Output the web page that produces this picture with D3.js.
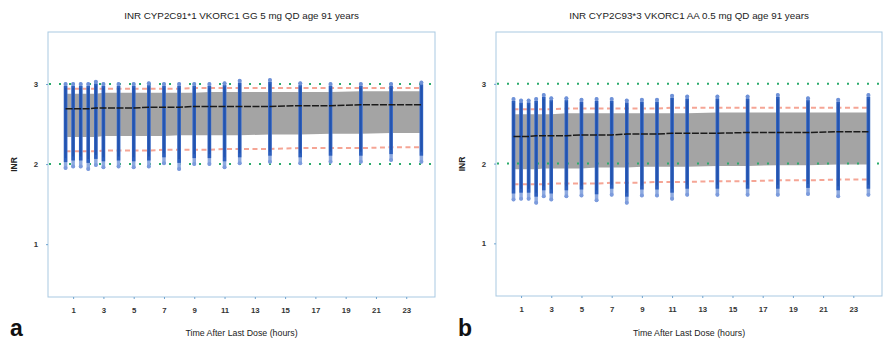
<!DOCTYPE html>
<html>
<head>
<meta charset="utf-8">
<script src="https://cdn.jsdelivr.net/npm/d3@7.9.0/dist/d3.min.js"></script>
<style>
  html, body { margin: 0; padding: 0; background: #fff; }
  svg { display: block; font-family: "Liberation Sans", Arial, sans-serif; }
</style>
</head>
<body>
<div id="chart"></div>
<script>
// =========================================
// DATA
// =========================================
const times = [0.5, 1, 1.5, 2, 2.5, 3, 4, 5, 6, 7, 8, 9, 10, 11, 12, 14, 16, 18, 20, 22, 24];
const xTicks = [1, 3, 5, 7, 9, 11, 13, 15, 17, 19, 21, 23];
const yTicks = [1, 2, 3];
const targetRange = [2, 3];

// panel a : CYP2C9*1/*1 VKORC1 GG 5 mg
const titleA = "INR CYP2C91*1 VKORC1 GG 5 mg QD age 91 years";
const simMaxA = [3.00, 3.00, 3.00, 3.00, 3.03, 3.00, 3.00, 3.00, 3.01, 3.00, 3.00, 3.00, 3.00, 3.01, 3.04, 3.05, 3.01, 3.00, 3.00, 3.00, 3.02];
const simMinA = [1.95, 1.97, 1.97, 1.94, 1.99, 1.96, 1.97, 1.96, 1.97, 2.01, 1.94, 2.00, 2.00, 1.96, 2.01, 2.03, 2.01, 2.03, 2.03, 2.05, 2.03];
const medianA = [2.69, 2.69, 2.69, 2.69, 2.70, 2.70, 2.70, 2.70, 2.71, 2.71, 2.71, 2.72, 2.72, 2.72, 2.72, 2.72, 2.73, 2.73, 2.74, 2.74, 2.74];
const bandHiA = [2.88, 2.88, 2.88, 2.88, 2.88, 2.89, 2.89, 2.89, 2.89, 2.89, 2.89, 2.89, 2.90, 2.90, 2.90, 2.90, 2.90, 2.90, 2.91, 2.91, 2.91];
const bandLoA = [2.34, 2.34, 2.34, 2.34, 2.34, 2.35, 2.35, 2.35, 2.35, 2.35, 2.36, 2.36, 2.36, 2.36, 2.36, 2.37, 2.37, 2.38, 2.38, 2.39, 2.39];
const p95A    = [2.94, 2.94, 2.94, 2.94, 2.94, 2.94, 2.94, 2.94, 2.94, 2.94, 2.94, 2.95, 2.95, 2.95, 2.95, 2.95, 2.95, 2.95, 2.95, 2.95, 2.95];
const p05A    = [2.16, 2.16, 2.16, 2.16, 2.16, 2.17, 2.17, 2.17, 2.17, 2.18, 2.18, 2.18, 2.18, 2.19, 2.19, 2.19, 2.20, 2.20, 2.20, 2.21, 2.21];

// panel b : CYP2C9*3/*3 VKORC1 AA 0.5 mg
const titleB = "INR CYP2C93*3 VKORC1 AA 0.5 mg QD age 91 years";
const simMaxB = [2.81, 2.79, 2.79, 2.81, 2.86, 2.82, 2.82, 2.80, 2.81, 2.81, 2.79, 2.80, 2.80, 2.85, 2.84, 2.84, 2.84, 2.86, 2.82, 2.80, 2.86];
const simMinB = [1.55, 1.56, 1.56, 1.51, 1.59, 1.55, 1.59, 1.60, 1.54, 1.61, 1.51, 1.60, 1.60, 1.56, 1.61, 1.61, 1.61, 1.61, 1.62, 1.59, 1.61];
const medianB = [2.34, 2.34, 2.34, 2.35, 2.35, 2.35, 2.35, 2.36, 2.36, 2.36, 2.37, 2.37, 2.37, 2.38, 2.38, 2.38, 2.39, 2.39, 2.39, 2.40, 2.40];
const bandHiB = [2.62, 2.62, 2.62, 2.62, 2.62, 2.62, 2.63, 2.63, 2.63, 2.63, 2.63, 2.63, 2.63, 2.63, 2.63, 2.64, 2.64, 2.64, 2.64, 2.64, 2.64];
const bandLoB = [1.93, 1.93, 1.93, 1.93, 1.94, 1.94, 1.94, 1.94, 1.95, 1.95, 1.95, 1.96, 1.96, 1.96, 1.96, 1.97, 1.97, 1.98, 1.98, 1.99, 1.99];
const p95B    = [2.68, 2.68, 2.68, 2.68, 2.68, 2.68, 2.69, 2.69, 2.69, 2.69, 2.69, 2.69, 2.69, 2.70, 2.70, 2.70, 2.70, 2.70, 2.70, 2.70, 2.70];
const p05B    = [1.74, 1.74, 1.74, 1.74, 1.74, 1.75, 1.75, 1.75, 1.75, 1.76, 1.76, 1.76, 1.77, 1.77, 1.77, 1.78, 1.78, 1.79, 1.79, 1.80, 1.80];

// =========================================
// LAYOUT
// =========================================
const W = 884, H = 342;
const svg = d3.select("#chart").append("svg")
    .attr("width", W)
    .attr("height", H);

const panels = [
    { letter: "a", title: titleA, left: 48, right: 435, top: 32, bottom: 297,
      max: simMaxA, min: simMinA, med: medianA, hi: bandHiA, lo: bandLoA, p95: p95A, p05: p05A },
    { letter: "b", title: titleB, left: 496, right: 882, top: 32, bottom: 296,
      max: simMaxB, min: simMinB, med: medianB, hi: bandHiB, lo: bandLoB, p95: p95B, p05: p05B }
];

const frameColor = "#a9c9e2";

// =========================================
// PANEL RENDERING
// =========================================
function drawPanel(p) {
    const x = d3.scaleLinear().domain([-0.66, 24.9]).range([p.left, p.right]);
    const y = d3.scaleLinear().domain([0.34, 3.65]).range([p.bottom, p.top]);

    const g = svg.append("g");
    const rows = times.map((t, i) => ({
        t, max: p.max[i], min: p.min[i], med: p.med[i],
        hi: p.hi[i], lo: p.lo[i], p95: p.p95[i], p05: p.p05[i]
    }));

    // frame
    g.append("rect")
        .attr("x", p.left).attr("y", p.top)
        .attr("width", p.right - p.left).attr("height", p.bottom - p.top)
        .attr("fill", "#fff")
        .attr("stroke", frameColor)
        .attr("stroke-width", 1);

    // grey band
    g.append("path")
        .datum(rows)
        .attr("fill", "#a4a4a4")
        .attr("d", d3.area().x(d => x(d.t)).y0(d => y(d.lo)).y1(d => y(d.hi)));

    // 5th / 95th percentile (salmon dashed)
    ["p95", "p05"].forEach(k => {
        g.append("path")
            .datum(rows)
            .attr("fill", "none")
            .attr("stroke", "#f5a595")
            .attr("stroke-width", 2)
            .attr("stroke-dasharray", "5,3.5")
            .attr("d", d3.line().x(d => x(d.t)).y(d => y(d[k])));
    });

    // therapeutic range (green dotted)
    g.selectAll(".target")
        .data(targetRange)
        .join("line")
        .attr("x1", p.left + 1).attr("x2", p.right - 1)
        .attr("y1", d => y(d)).attr("y2", d => y(d))
        .attr("stroke", "#2bab6c")
        .attr("stroke-width", 2)
        .attr("stroke-dasharray", "2,8");

    // simulated INR columns
    const cols = g.append("g");
    cols.selectAll(".halo")
        .data(rows)
        .join("line")
        .attr("x1", d => x(d.t)).attr("x2", d => x(d.t))
        .attr("y1", d => y(d.max)).attr("y2", d => y(d.min))
        .attr("stroke", "#8eaae0")
        .attr("stroke-width", 3.5)
        .attr("stroke-linecap", "round");
    cols.selectAll(".core")
        .data(rows)
        .join("line")
        .attr("x1", d => x(d.t)).attr("x2", d => x(d.t))
        .attr("y1", d => y(d.max) + 2).attr("y2", d => y(d.min) - 6)
        .attr("stroke", "#2d5fbd")
        .attr("stroke-width", 3.5);
    cols.selectAll(".inner")
        .data(rows)
        .join("line")
        .attr("x1", d => x(d.t)).attr("x2", d => x(d.t))
        .attr("y1", d => y(d.max) + 4).attr("y2", d => y(d.min) - 10)
        .attr("stroke", "#2353ad")
        .attr("stroke-width", 1.5);
    cols.selectAll(".tipTop")
        .data(rows)
        .join("circle")
        .attr("cx", d => x(d.t)).attr("cy", d => y(d.max))
        .attr("r", 2)
        .attr("fill", "#6f92d8");
    cols.selectAll(".tipBot")
        .data(rows)
        .join("circle")
        .attr("cx", d => x(d.t)).attr("cy", d => y(d.min))
        .attr("r", 2)
        .attr("fill", "#7c9bdc");

    // median (black dashed)
    g.append("path")
        .datum(rows)
        .attr("fill", "none")
        .attr("stroke", "#1a1a1a")
        .attr("stroke-width", 1.5)
        .attr("stroke-dasharray", "7,1.5")
        .attr("d", d3.line().x(d => x(d.t)).y(d => y(d.med)));

    // axes
    const xAxis = g.append("g")
        .attr("transform", `translate(0,${p.bottom})`)
        .call(d3.axisBottom(x).tickValues(xTicks).tickSize(2).tickPadding(8).tickFormat(d3.format("d")));
    const yAxis = g.append("g")
        .attr("transform", `translate(${p.left},0)`)
        .call(d3.axisLeft(y).tickValues(yTicks).tickSize(2).tickPadding(8).tickFormat(d3.format("d")));
    [xAxis, yAxis].forEach(a => {
        a.select(".domain").remove();
        a.selectAll(".tick line").attr("stroke", "#6fa3cf");
        a.selectAll(".tick text")
            .attr("fill", "#333")
            .style("font-size", "7.8px")
            .style("font-weight", "bold");
    });

    // titles and labels
    const cx = (p.left + p.right) / 2;
    g.append("text")
        .attr("x", cx).attr("y", 18.5)
        .attr("text-anchor", "middle")
        .attr("fill", "#222")
        .style("font-size", "9.8px")
        .text(p.title);

    g.append("text")
        .attr("x", cx).attr("y", 336)
        .attr("text-anchor", "middle")
        .attr("fill", "#222")
        .style("font-size", "8.8px")
        .text("Time After Last Dose (hours)");

    g.append("text")
        .attr("transform", `translate(${p.left - 31},${(p.top + p.bottom) / 2}) rotate(-90)`)
        .attr("text-anchor", "middle")
        .attr("fill", "#222")
        .style("font-size", "8.5px")
        .style("font-weight", "bold")
        .text("INR");

    g.append("text")
        .attr("x", p.left - 38).attr("y", 336)
        .attr("fill", "#111")
        .style("font-size", "23px")
        .style("font-weight", "bold")
        .text(p.letter);
}

panels.forEach(drawPanel);
</script>
</body>
</html>
